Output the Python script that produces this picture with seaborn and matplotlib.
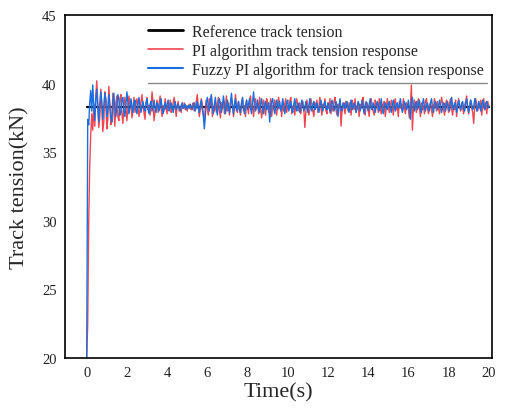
import numpy as np
import pandas as pd
import matplotlib
matplotlib.use("Agg")
import matplotlib.pyplot as plt
import seaborn as sns
from matplotlib.lines import Line2D

# ---------------- data ----------------
dt = 0.05
reference_value = 38.3

fuzzy_pi = [
    20.0, 37.4, 37.0, 38.6, 39.5, 38.0, 39.9, 38.4, 37.3, 38.9, 39.6, 38.2, 37.2, 38.5, 39.4, 38.7, 37.4, 38.3, 39.3, 38.9,
    37.6, 38.0, 39.2, 38.4, 37.5, 37.2, 38.7, 39.3, 38.1, 37.6, 38.4, 39.2, 38.8, 37.7, 37.9, 38.9, 39.0, 38.0, 37.6, 38.5,
    39.4, 38.6, 37.8, 38.2, 38.9, 38.4, 37.9, 38.6, 38.8, 38.1, 37.8, 38.5, 39.0, 38.3, 37.9, 38.4, 38.7, 38.2, 38.0, 38.6,
    38.9, 38.1, 37.8, 38.5, 38.7, 38.0, 38.3, 38.8, 38.2, 37.9, 38.6, 38.5, 38.0, 38.4, 38.9, 38.2, 37.8, 38.3, 38.6, 38.1,
    38.5, 38.8, 38.0, 38.2, 38.6, 38.3, 37.9, 38.4, 38.7, 38.1, 38.3, 38.5, 38.2, 38.0, 38.4, 38.6, 38.2, 38.3, 38.5, 38.1,
    38.3, 38.4, 38.2, 38.5, 38.3, 38.1, 38.4, 38.6, 38.0, 38.3, 38.7, 38.2, 37.9, 38.5, 38.8, 38.1, 37.7, 36.7, 37.6, 38.6,
    39.0, 38.4, 38.0, 38.7, 39.2, 38.3, 37.8, 38.5, 39.0, 38.2, 37.7, 38.4, 38.9, 38.6, 37.9, 38.3, 39.1, 38.5, 37.8, 38.2,
    38.8, 38.3, 37.9, 38.6, 39.3, 38.4, 37.8, 38.5, 38.9, 38.0, 38.3, 38.7, 38.1, 37.9, 38.6, 39.0, 38.2, 37.8, 38.4, 38.8,
    38.1, 38.5, 38.9, 38.2, 37.8, 38.6, 39.4, 38.5, 38.0, 38.3, 38.8, 38.2, 37.9, 38.5, 38.9, 38.3, 37.8, 38.4, 38.7, 38.1,
    38.3, 38.6, 37.2, 38.0, 38.7, 38.9, 38.2, 37.8, 38.5, 38.8, 38.1, 38.4, 38.7, 38.0, 38.3, 38.9, 38.4, 37.8, 38.2, 38.6,
    38.8, 38.0, 38.4, 38.7, 38.1, 37.9, 38.5, 38.9, 38.2, 38.0, 38.6, 38.4, 37.9, 38.3, 38.8, 38.5, 38.0, 38.2, 38.7, 38.3,
    37.9, 38.4, 38.9, 38.2, 38.0, 38.5, 38.7, 38.1, 38.3, 38.6, 38.2, 37.9, 38.4, 38.8, 38.3, 38.0, 38.5, 38.7, 38.2, 38.1,
    38.6, 38.4, 37.9, 38.3, 38.8, 38.5, 38.0, 38.2, 38.7, 38.4, 37.6, 38.3, 38.9, 38.1, 38.0, 38.5, 38.6, 38.2, 38.3, 38.7,
    38.2, 37.9, 38.5, 38.8, 38.1, 38.3, 38.6, 38.4, 37.9, 38.2, 38.7, 38.5, 38.0, 38.3, 38.8, 38.2, 37.8, 38.4, 38.7, 38.3,
    38.0, 38.5, 38.9, 38.2, 38.1, 38.6, 38.4, 37.9, 38.3, 38.7, 38.5, 38.0, 38.4, 38.9, 38.2, 37.8, 38.3, 38.6, 38.4, 38.1,
    38.5, 38.7, 38.2, 37.9, 38.4, 38.8, 38.3, 38.0, 38.5, 38.6, 38.2, 38.3, 38.9, 38.4, 37.9, 38.2, 38.7, 38.5, 38.1, 38.3,
    38.8, 38.2, 37.4, 38.6, 39.0, 38.3, 38.0, 38.5, 38.7, 38.1, 38.4, 38.8, 38.2, 37.9, 38.5, 38.9, 38.3, 38.0, 38.4, 38.6,
    38.2, 38.0, 38.6, 38.9, 38.3, 37.9, 38.4, 38.7, 38.5, 38.1, 38.3, 38.8, 38.4, 37.9, 38.2, 38.6, 38.5, 38.0, 38.4, 38.7,
    38.3, 38.0, 38.5, 39.0, 38.4, 38.1, 38.6, 38.5, 37.9, 38.2, 38.8, 38.4, 38.1, 38.5, 38.7, 38.2, 38.0, 38.6, 38.9, 38.3,
    37.9, 38.4, 38.8, 38.5, 38.1, 38.3, 38.9, 38.6, 38.0, 38.2, 38.7, 38.4, 38.0, 38.5, 38.8, 38.3, 38.1, 38.6, 38.7, 38.2,
    38.4,
]

pi_response = [
    20.0, 22.5, 30.0, 34.0, 36.3, 37.8, 36.6, 38.5, 36.9, 39.0, 40.2, 38.6, 36.8, 37.5, 39.6, 38.3, 36.5, 37.2, 39.4, 38.8,
    36.7, 37.4, 39.8, 38.5, 37.0, 37.3, 39.3, 38.0, 36.9, 38.6, 39.1, 37.6, 37.3, 38.9, 39.2, 37.8, 37.1, 38.4, 39.0, 38.2,
    37.3, 38.2, 39.1, 38.4, 38.6, 37.5, 38.0, 39.0, 37.9, 38.5, 38.9, 38.2, 37.6, 38.1, 38.7, 39.2, 38.3, 37.9, 37.4, 38.6,
    39.0, 38.1, 38.4, 37.7, 38.2, 39.4, 38.6, 37.3, 38.0, 38.3, 38.8, 37.9, 38.5, 39.1, 38.2, 37.6, 38.4, 38.0, 38.9, 38.3,
    37.8, 38.5, 38.2, 38.8, 37.9, 38.1, 38.6, 39.0, 38.3, 37.6, 38.4, 38.7, 38.0, 38.3, 37.9, 38.5, 38.2, 38.6, 38.1, 38.4,
    38.0, 38.3, 38.5, 38.2, 38.1, 38.4, 38.6, 38.0, 38.2, 38.7, 39.2, 38.3, 37.6, 38.1, 38.9, 38.5, 37.8, 37.2, 38.3, 38.8,
    38.2, 37.7, 38.9, 38.4, 39.1, 37.6, 38.3, 38.0, 38.7, 37.9, 38.5, 39.0, 38.1, 37.5, 38.6, 38.2, 38.8, 37.8, 38.4, 39.1,
    38.0, 38.6, 37.7, 38.3, 38.9, 38.5, 37.6, 38.2, 39.2, 38.4, 37.9, 38.7, 38.1, 37.7, 38.5, 38.9, 38.0, 38.4, 37.6, 38.8,
    38.3, 37.8, 38.8, 39.1, 38.1, 38.5, 37.6, 38.4, 38.9, 38.2, 38.6, 37.8, 39.0, 38.3, 37.5, 38.1, 38.8, 38.4, 37.7, 38.9,
    38.5, 37.9, 38.2, 38.9, 37.6, 38.4, 38.3, 38.8, 38.1, 37.7, 38.6, 39.0, 38.2, 38.4, 37.6, 38.7, 38.0, 38.5, 38.9, 37.9,
    38.4, 38.1, 38.7, 39.0, 37.8, 38.3, 38.5, 37.7, 38.6, 38.9, 38.2, 38.0, 38.6, 37.8, 38.4, 38.7, 38.2, 36.8, 37.9, 38.8,
    38.4, 37.7, 38.1, 38.9, 38.5, 38.0, 37.6, 38.6, 38.3, 38.8, 37.9, 38.4, 39.0, 38.2, 37.7, 38.5, 38.3, 38.9, 38.0, 37.8,
    38.6, 38.2, 38.9, 37.8, 38.4, 38.0, 38.7, 39.0, 38.1, 37.7, 38.5, 38.3, 38.8, 36.9, 38.0, 38.6, 38.2, 37.8, 38.7, 38.4,
    38.0, 38.6, 38.3, 37.7, 38.8, 38.4, 38.1, 38.9, 37.9, 38.3, 38.6, 37.6, 38.5, 38.2, 38.8, 39.0, 38.0, 37.7, 38.4, 38.6,
    38.2, 37.6, 38.5, 38.9, 38.3, 38.0, 37.7, 38.8, 38.4, 38.6, 37.9, 38.9, 38.2, 37.8, 38.5, 38.3, 38.7, 37.6, 38.2, 38.9,
    38.4, 37.9, 38.2, 38.8, 38.5, 37.7, 38.6, 38.9, 38.1, 38.3, 37.6, 38.7, 38.2, 38.5, 38.0, 38.9, 38.3, 37.8, 38.6, 38.4,
    38.1, 37.5, 38.4, 39.9, 36.6, 38.2, 38.8, 38.3, 37.9, 38.5, 38.9, 38.2, 37.6, 38.6, 38.1, 38.4, 37.8, 38.7, 38.9, 38.2,
    37.8, 38.4, 38.6, 38.1, 37.6, 38.3, 38.9, 38.5, 38.0, 38.7, 38.2, 37.8, 38.4, 39.0, 38.6, 38.1, 37.7, 38.5, 38.8, 38.3,
    37.9, 38.6, 38.9, 38.2, 37.7, 38.4, 38.1, 38.8, 37.6, 38.5, 38.9, 38.3, 38.0, 38.6, 38.2, 37.8, 38.4, 38.7, 39.1, 38.2,
    37.8, 38.4, 38.8, 38.2, 37.9, 37.1, 38.3, 38.9, 38.5, 38.0, 38.6, 38.2, 38.8, 37.7, 38.4, 38.9, 38.1, 38.5, 37.8, 38.7,
    38.3,
]

x_ticks = [0, 2, 4, 6, 8, 10, 12, 14, 16, 18, 20]
y_ticks = [20, 25, 30, 35, 40, 45]

labels = ["Reference track tension",
          "PI algorithm track tension response",
          "Fuzzy PI algorithm for track tension response"]

# ---------------- figure ----------------
sns.set_theme(style="white")
plt.rcParams['font.family'] = ['Liberation Serif', 'DejaVu Serif']
plt.rcParams['mathtext.fontset'] = 'stix'

time = np.arange(len(fuzzy_pi)) * dt
df = pd.DataFrame({
    "time": time,
    "ref": np.full(len(time), reference_value),
    "pi": pi_response,
    "fuzzy": fuzzy_pi,
})

fig = plt.figure(figsize=(5.07, 4.10), dpi=100)
ax = fig.add_axes([65 / 507, 51 / 410, 427 / 507, 343 / 410])

red = "#F2454F"
blue = "#1A6FE0"

sns.lineplot(data=df, x="time", y="ref", ax=ax, color="black", lw=1.6,
             estimator=None, sort=False, label=labels[0])
sns.lineplot(data=df, x="time", y="pi", ax=ax, color=red, lw=1.0,
             estimator=None, sort=False, label=labels[1])
sns.lineplot(data=df, x="time", y="fuzzy", ax=ax, color=blue, lw=1.0,
             estimator=None, sort=False, label=labels[2])

ax.set_xlim(-1.08, 20.16)
ax.set_ylim(20, 45)
ax.set_xticks(x_ticks)
ax.set_yticks(y_ticks)
ax.tick_params(axis="both", length=0, labelsize=10.5, colors="#222222", pad=6)
ax.set_xlabel("Time(s)", fontsize=16, labelpad=2)
ax.set_ylabel("Track tension(kN)", fontsize=16, labelpad=9)

for s in ax.spines.values():
    s.set_color("black")
    s.set_linewidth(1.2)

leg = ax.legend(loc="upper left", bbox_to_anchor=(83 / 427, 0.975),
                frameon=False, fontsize=11.5, handlelength=2.2,
                handletextpad=0.55, labelspacing=0.2, borderpad=0,
                borderaxespad=0)
for h, w in zip(leg.get_lines(), [2.0, 1.2, 1.5]):
    h.set_linewidth(w)

# thin rule under the legend block
ax.add_line(Line2D([83 / 427, 422 / 427], [(359 - 84) / 343] * 2,
                   transform=ax.transAxes, color="#8a8a8a", lw=1.0))

fig.savefig("out.png", dpi=100)
